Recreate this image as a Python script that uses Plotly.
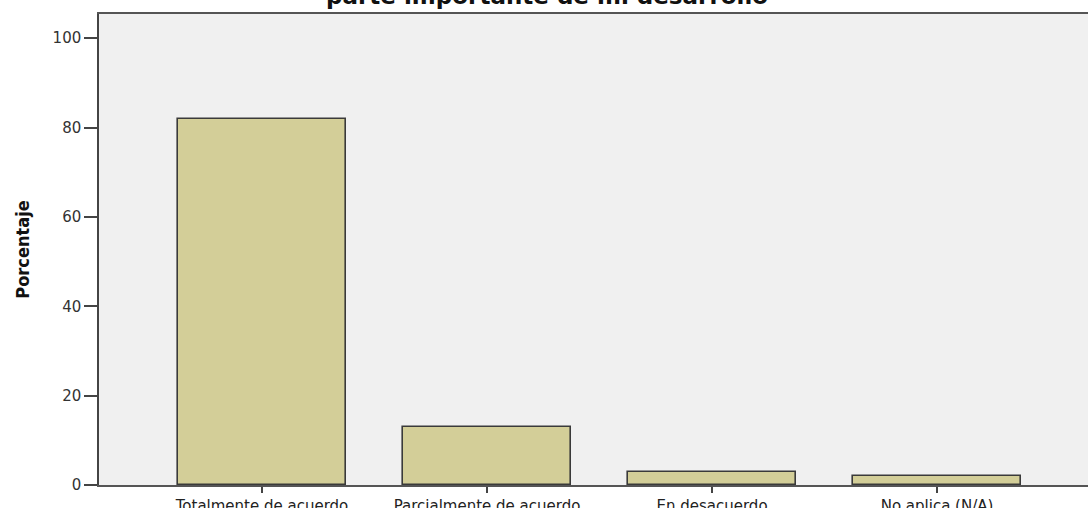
import plotly.graph_objects as go

categories = ["Totalmente de acuerdo", "Parcialmente de acuerdo", "En desacuerdo", "No aplica (N/A)"]
percentages = [82, 13, 3, 2]
y_ticks = [0, 20, 40, 60, 80, 100]
title_text = "parte importante de mi desarrollo"
y_title = "Porcentaje"

fig = go.Figure(
    go.Bar(
        x=categories,
        y=percentages,
        width=0.75,
        marker=dict(color="#d3ce98", line=dict(color="#3a3a3a", width=1.6)),
        hoverinfo="skip",
    )
)

fig.update_layout(
    width=1088,
    height=508,
    margin=dict(l=99, r=0, t=14, b=23, autoexpand=False),
    paper_bgcolor="white",
    plot_bgcolor="#f0f0f0",
    showlegend=False,
    bargap=0,
)

fig.update_xaxes(
    type="category",
    automargin=False,
    range=[-0.7244, 3.671],
    showline=True,
    linecolor="#555555",
    linewidth=1.5,
    mirror=True,
    ticks="outside",
    ticklen=6,
    tickwidth=1.5,
    tickcolor="#444444",
    tickfont=dict(family="DejaVu Sans", size=15, color="#222222"),
    showgrid=False,
    zeroline=False,
)

fig.update_yaxes(
    automargin=False,
    range=[0, 105.4],
    tickvals=y_ticks,
    showline=True,
    linecolor="#444444",
    linewidth=1.5,
    ticks="outside",
    ticklen=13,
    tickwidth=1.5,
    tickcolor="#444444",
    tickfont=dict(family="DejaVu Sans", size=15, color="#333333"),
    showgrid=False,
    zeroline=False,
    title=dict(
        text="<b>" + y_title + "</b>",
        font=dict(family="DejaVu Sans Condensed, DejaVu Sans, sans-serif", size=18, color="#111111"),
        standoff=18,
    ),
)

fig.add_annotation(
    text="<b>" + title_text + "</b>",
    xref="paper",
    yref="paper",
    x=0.453,
    y=1,
    xanchor="center",
    yanchor="bottom",
    yshift=3,
    showarrow=False,
    font=dict(family="DejaVu Sans", size=23, color="#111111"),
)

fig.write_html(
    "out.html",
    config={"displayModeBar": False},
    post_script="document.body.style.margin='0';document.body.style.padding='0';",
)
